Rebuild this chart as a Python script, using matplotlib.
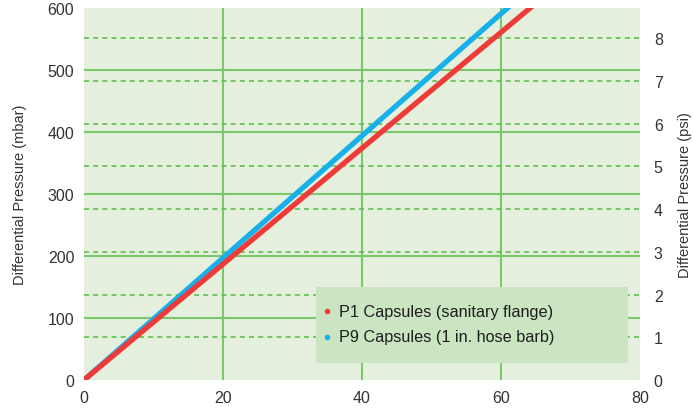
import numpy as np
import matplotlib.pyplot as plt

plt.rcParams['font.family'] = ['Liberation Sans', 'DejaVu Sans']

flow = [0, 20, 40, 60, 80]
p1_mbar = [0, 187, 374, 561, 748]
p9_mbar = [0, 197, 394, 591, 788]
labels = ["P1 Capsules (sanitary flange)", "P9 Capsules (1 in. hose barb)"]
MBAR_PER_PSI = 68.948

bg = "#e4f0dd"
grid_solid = "#7cc76b"
grid_dash = "#5fbf4f"
text_c = "#333333"

fig = plt.figure(figsize=(6.93, 4.10), dpi=100)
ax = fig.add_axes([0.1212, 0.0707, 0.8023, 0.907])
ax.set_facecolor(bg)
for s in ax.spines.values():
    s.set_visible(False)

ax.set_xlim(0, 80)
ax.set_ylim(0, 600)
ax.set_xticks([0, 20, 40, 60, 80])
ax.set_yticks(range(0, 601, 100))
ax.tick_params(length=0, labelsize=11.5, colors=text_c, pad=7)
ax.set_ylabel("Differential Pressure (mbar)", fontsize=10.5, color=text_c, labelpad=15)

for y in range(100, 600, 100):
    ax.axhline(y, color=grid_solid, lw=1.5, zorder=1)
for x in [20, 40, 60]:
    ax.axvline(x, color=grid_solid, lw=1.5, zorder=1)

ax2 = ax.twinx()
ax2.set_ylim(0, 600 / MBAR_PER_PSI)
ax2.set_yticks(range(0, 9))
for s in ax2.spines.values():
    s.set_visible(False)
ax2.tick_params(length=0, labelsize=11.5, colors=text_c, pad=10)
ax2.set_ylabel("Differential Pressure (psi)", fontsize=10.5, color=text_c, labelpad=11)
for p in range(1, 9):
    ax.axhline(p * MBAR_PER_PSI, color=grid_dash, lw=1.2, ls=(0, (3, 2.5)), zorder=1)

ax.plot(flow, p9_mbar, color="#17b0ea", lw=3.8, zorder=3, solid_capstyle="butt")
ax.plot(flow, p1_mbar, color="#ef3a3a", lw=3.8, zorder=3, solid_capstyle="butt")

# legend box
box = plt.Rectangle((33.4, 27), 44.9, 123, facecolor="#cbe4c1", edgecolor="none", zorder=4)
ax.add_patch(box)
ax.scatter([35.0], [111], s=16, color="#ef3a3a", zorder=5, linewidths=0)
ax.scatter([35.0], [70], s=16, color="#17b0ea", zorder=5, linewidths=0)
for yv, lab in zip([111, 70], labels):
    ax.text(36.7, yv, lab, fontsize=11.7, color="#1e1e1e", va="center", zorder=5)

fig.savefig("out.png", dpi=100)
